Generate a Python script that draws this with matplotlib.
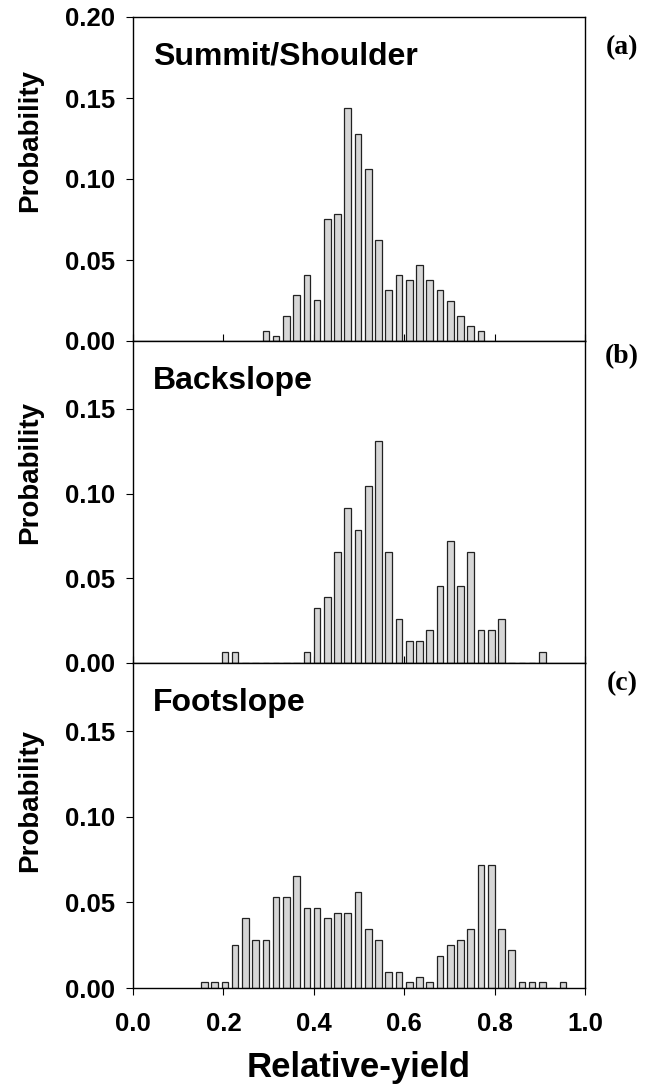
import matplotlib

matplotlib.use("Agg")
import matplotlib.pyplot as plt
import numpy as np

# histogram bins (relative yield), first bin centre and bin width
first_bin = 0.158
bin_width = 0.02266

# probabilities, listed from the first occupied bin of each panel
summit_start = 6
summit_prob = [0.0062, 0.0031, 0.0154, 0.0282, 0.0407, 0.0251, 0.0751, 0.0782,
               0.1440, 0.1280, 0.1064, 0.0623, 0.0313, 0.0407, 0.0377, 0.0469,
               0.0377, 0.0313, 0.0248, 0.0156, 0.0092, 0.0062]

back_start = 2
back_prob = [0.0063, 0.0063, 0.0, 0.0, 0.0, 0.0, 0.0, 0.0, 0.0063, 0.0324,
             0.0388, 0.0653, 0.0915, 0.0782, 0.1047, 0.1308, 0.0653, 0.0259,
             0.0127, 0.0127, 0.0194, 0.0457, 0.0718, 0.0457, 0.0653, 0.0194,
             0.0194, 0.0259, 0.0, 0.0, 0.0, 0.0063]

foot_start = 0
foot_prob = [0.0033, 0.0033, 0.0033, 0.0250, 0.0407, 0.0280, 0.0280, 0.0533,
             0.0533, 0.0655, 0.0470, 0.0470, 0.0407, 0.0438, 0.0438, 0.0564,
             0.0345, 0.0280, 0.0095, 0.0095, 0.0033, 0.0062, 0.0033, 0.0190,
             0.0254, 0.0280, 0.0347, 0.0720, 0.0720, 0.0347, 0.0223, 0.0033,
             0.0033, 0.0033, 0.0, 0.0033]

panel_names = ["Summit/Shoulder", "Backslope", "Footslope"]
panel_tags = ["(a)", "(b)", "(c)"]
x_ticks = [0.0, 0.2, 0.4, 0.6, 0.8, 1.0]

plt.rcParams["font.family"] = ["Liberation Sans", "DejaVu Sans"]
plt.rcParams["font.weight"] = "bold"

W, H = 656, 1089
fig = plt.figure(figsize=(W / 100, H / 100), dpi=100)

# axes boxes in pixels: (top, bottom)
boxes = [(17, 341), (341, 663), (663, 988)]
left_px, right_px = 133, 585
ytops = [0.20, 0.19, 0.19]
label_y = [140, 472, 800]
tag_y = [48, 357, 684]

series = [(summit_start, summit_prob), (back_start, back_prob), (foot_start, foot_prob)]

for i, ((top, bot), (start, prob)) in enumerate(zip(boxes, series)):
    ax = fig.add_axes([left_px / W, 1 - bot / H, (right_px - left_px) / W, (bot - top) / H])
    centers = first_bin + bin_width * (start + np.arange(len(prob)))
    ax.bar(centers, prob, width=bin_width * 0.65, color="#d6d6d6",
           edgecolor="#222222", linewidth=0.9, zorder=2)
    ax.set_xlim(0, 1.0)
    ax.set_ylim(0, ytops[i])
    if i == 0:
        ax.set_yticks([0.0, 0.05, 0.10, 0.15, 0.20])
    else:
        ax.set_yticks([0.0, 0.05, 0.10, 0.15])
    ax.set_yticklabels([f"{v:.2f}" for v in ax.get_yticks()], fontsize=18.5, fontweight="bold")
    ax.set_xticks(x_ticks)
    ax.tick_params(axis="y", direction="out", length=5, width=0.8, pad=8)
    if i < 2:
        ax.tick_params(axis="x", direction="in", length=5, width=0.8, labelbottom=False)
    else:
        ax.tick_params(axis="x", direction="out", length=5, width=0.8, pad=12)
        ax.set_xticklabels([f"{v:.1f}" for v in x_ticks], fontsize=18.5, fontweight="bold")
    for sp in ax.spines.values():
        sp.set_linewidth(1.0)
    ax.text(0.045, 0.877, panel_names[i], transform=ax.transAxes, fontsize=23,
            fontweight="bold", ha="left", va="center")
    fig.text(30 / W, 1 - label_y[i] / H, "Probability", rotation=90, fontsize=20,
             fontweight="bold", ha="center", va="center")
    fig.text(622 / W, 1 - tag_y[i] / H, panel_tags[i], fontsize=20, fontweight="bold",
             family="Liberation Serif", ha="center", va="center")

fig.text(359 / W, 1 - 1067 / H, "Relative-yield", fontsize=25, fontweight="bold",
         ha="center", va="center")

fig.savefig("out.png", dpi=100)
